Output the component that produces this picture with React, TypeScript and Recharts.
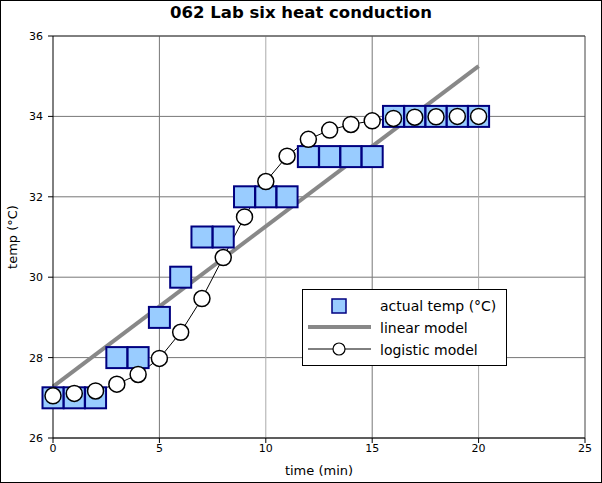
import React from "react";
import {
  ComposedChart,
  Line,
  Scatter,
  XAxis,
  YAxis,
  CartesianGrid,
  ReferenceLine,
  Label,
} from "recharts";

const times = [0, 1, 2, 3, 4, 5, 6, 7, 8, 9, 10, 11, 12, 13, 14, 15, 16, 17, 18, 19, 20];
const actualTemp = [27, 27, 27, 28, 28, 29, 30, 31, 31, 32, 32, 32, 33, 33, 33, 33, 34, 34, 34, 34, 34];
const logisticModel = [
  27.05, 27.11, 27.17, 27.34, 27.58, 27.98, 28.63, 29.47, 30.49, 31.5, 32.38,
  33.01, 33.43, 33.66, 33.8, 33.89, 33.95, 33.98, 33.99, 34.0, 34.0,
];
const linearTimes = [0, 20];
const linearModel = [27.28, 35.25];

const xTicks = [0, 5, 10, 15, 20, 25];
const yTicks = [26, 28, 30, 32, 34, 36];

const rows = times.map((t, i) => {
  const li = linearTimes.indexOf(t);
  return {
    t,
    actual: actualTemp[i],
    logistic: logisticModel[i],
    linear: li >= 0 ? linearModel[li] : null,
  };
});

const font = "'DejaVu Sans', Verdana, sans-serif";

const SquareShape = (props: any) => {
  const { cx, cy } = props;
  if (cx == null || cy == null) return null;
  return (
    <rect
      x={cx - 10.5}
      y={cy - 10.5}
      width={21}
      height={21}
      fill="#99ccff"
      stroke="#000080"
      strokeWidth={2}
    />
  );
};

const CircleDot = (props: any) => {
  const { cx, cy, index } = props;
  if (cx == null || cy == null) return null;
  return <circle key={index} cx={cx} cy={cy} r={8} fill="#fff" stroke="#000" strokeWidth={1.5} />;
};

export default function App() {
  return (
    <div
      style={{
        position: "absolute",
        left: 0,
        top: 0,
        width: 602,
        height: 483,
        background: "#fff",
        fontFamily: font,
      }}
    >
      <div
        style={{
          position: "absolute",
          left: 0,
          top: 0,
          width: 600,
          height: 481,
          border: "1px solid #000",
        }}
      />
      <div
        style={{
          position: "absolute",
          left: 0,
          top: 3,
          width: 602,
          textAlign: "center",
          fontWeight: "bold",
          fontSize: 16.5,
          color: "#000",
        }}
      >
        062 Lab six heat conduction
      </div>
      <ComposedChart
        width={602}
        height={483}
        data={rows}
        margin={{ top: 36, right: 17, bottom: 15, left: 0 }}
      >
        <CartesianGrid vertical={false} stroke="#777" horizontalValues={yTicks} />
        <ReferenceLine x={5} stroke="#777" />
        <ReferenceLine x={10} stroke="#aaa" />
        <ReferenceLine x={15} stroke="#777" />
        <ReferenceLine x={20} stroke="#aaa" />
        <ReferenceLine x={25} stroke="#444" />
        <ReferenceLine y={36} stroke="#444" />
        <XAxis
          dataKey="t"
          type="number"
          domain={[0, 25]}
          ticks={xTicks}
          height={30}
          stroke="#000"
          tickSize={5}
          tickMargin={1}
          tick={{ fill: "#000", fontSize: 11, fontFamily: font }}
          interval={0}
        >
          <Label
            value="time (min)"
            position="insideBottom"
            offset={-7}
            style={{ fill: "#000", fontSize: 13, fontFamily: font }}
          />
        </XAxis>
        <YAxis
          type="number"
          domain={[26, 36]}
          ticks={yTicks}
          width={53}
          stroke="#000"
          tickSize={5}
          tickMargin={5}
          tick={{ fill: "#000", fontSize: 11, fontFamily: font }}
          interval={0}
        >
          <Label
            value="temp (°C)"
            angle={-90}
            position="insideLeft"
            offset={12}
            style={{ fill: "#000", fontSize: 13, fontFamily: font, textAnchor: "middle" }}
          />
        </YAxis>
        <Line
          dataKey="linear"
          stroke="#888"
          strokeWidth={4}
          dot={false}
          activeDot={false}
          connectNulls
          isAnimationActive={false}
        />
        <Scatter dataKey="actual" shape={<SquareShape />} isAnimationActive={false} />
        <Line
          dataKey="logistic"
          stroke="#000"
          strokeWidth={1}
          dot={<CircleDot />}
          activeDot={false}
          isAnimationActive={false}
        />
      </ComposedChart>
      <div
        style={{
          position: "absolute",
          left: 302,
          top: 289,
          width: 203,
          height: 75,
          border: "1px solid #000",
          background: "#fff",
        }}
      >
        <svg width={203} height={75} style={{ position: "absolute", left: 0, top: 0 }}>
          <rect x={29} y={9} width={14} height={14} fill="#99ccff" stroke="#000080" strokeWidth={1.5} />
          <line x1={5} x2={68} y1={37} y2={37} stroke="#888" strokeWidth={4} />
          <line x1={5} x2={68} y1={59} y2={59} stroke="#000" strokeWidth={1} />
          <circle cx={36} cy={59} r={6} fill="#fff" stroke="#000" strokeWidth={1.2} />
          <text x={77} y={21} fontSize={14} fontFamily={font} fill="#000">
            actual temp (°C)
          </text>
          <text x={77} y={43} fontSize={14} fontFamily={font} fill="#000">
            linear model
          </text>
          <text x={77} y={65} fontSize={14} fontFamily={font} fill="#000">
            logistic model
          </text>
        </svg>
      </div>
    </div>
  );
}
